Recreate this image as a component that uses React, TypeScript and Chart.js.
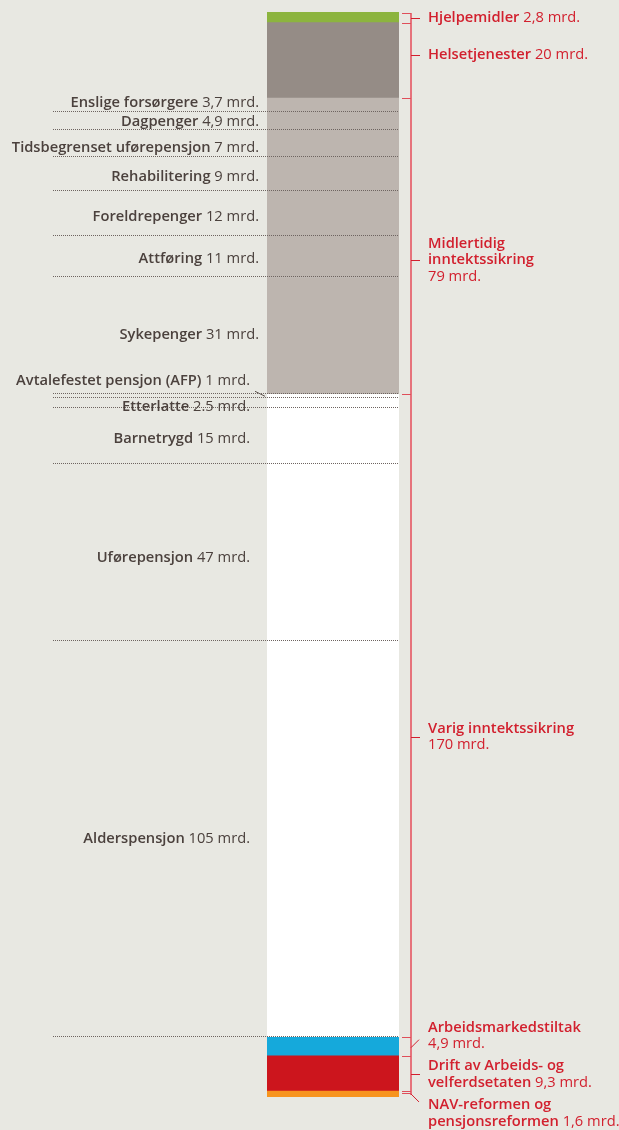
import { useEffect, useRef } from "react";
import { Chart, registerables } from "chart.js";
Chart.register(...registerables);

// ---- Data (values in mrd. kr) ----
// Varig inntektssikring, bottom to top
const varigItems = ["Alderspensjon", "Uførepensjon", "Barnetrygd", "Etterlatte", "Avtalefestet pensjon (AFP)"];
const varigValues = [105, 47, 15, 2.5, 1];
const varigValueLabels = ["105 mrd.", "47 mrd.", "15 mrd.", "2.5 mrd.", "1 mrd."];

// Midlertidig inntektssikring, bottom to top
const midlertidigItems = ["Sykepenger", "Attføring", "Foreldrepenger", "Rehabilitering", "Tidsbegrenset uførepensjon", "Dagpenger", "Enslige forsørgere"];
const midlertidigValues = [31, 11, 12, 9, 7, 4.9, 3.7];
const midlertidigValueLabels = ["31 mrd.", "11 mrd.", "12 mrd.", "9 mrd.", "7 mrd.", "4,9 mrd.", "3,7 mrd."];

// Single-segment groups
const navReformValues = [1.6];
const driftValues = [9.3];
const arbeidsValues = [4.9];
const helseValues = [20];
const hjelpemidlerValues = [2.8];

// Group labels, bottom to top
const groupNames = [
  ["NAV-reformen og", "pensjonsreformen"],
  ["Drift av Arbeids- og", "velferdsetaten"],
  ["Arbeidsmarkedstiltak"],
  ["Varig inntektssikring"],
  ["Midlertidig", "inntektssikring"],
  ["Helsetjenester"],
  ["Hjelpemidler"],
];
const groupValueLabels = ["1,6 mrd.", "9,3 mrd.", "4,9 mrd.", "170 mrd.", "79 mrd.", "20 mrd.", "2,8 mrd."];

// ---- Styles ----
const BG = "#e8e8e2";
const C_NAV = "#f7941e";
const C_DRIFT = "#cc151d";
const C_ARB = "#15a9db";
const C_VARIG = "#ffffff";
const C_MIDL = "#bdb5af";
const C_HELSE = "#958c86";
const C_HJELP = "#8cb43e";
const TXT = "#4b413d";
const RED_TXT = "#d2202e";
const BRACKET = "#e6737c";
const FONT = '"Open Sans", "Noto Sans", sans-serif';
const FS = 14.7;

const sum = (a: number[]) => a.reduce((s, v) => s + v, 0);

export default function App() {
  const ref = useRef<HTMLCanvasElement>(null);
  useEffect(() => {
    document.body.style.margin = "0";
    document.body.style.background = BG;
    const canvas = ref.current!;

    const ds = (label: string, v: number, color: string) => ({
      label,
      data: [v],
      backgroundColor: color,
      borderWidth: 0,
      barPercentage: 1,
      categoryPercentage: 1,
      stack: "s",
    });

    const datasets: any[] = [
      ds("NAV-reformen", navReformValues[0], C_NAV),
      ds("Drift", driftValues[0], C_DRIFT),
      ds("Arbeidsmarkedstiltak", arbeidsValues[0], C_ARB),
      ...varigItems.map((n, i) => ds(n, varigValues[i], C_VARIG)),
      ...midlertidigItems.map((n, i) => ds(n, midlertidigValues[i], C_MIDL)),
      ds("Helsetjenester", helseValues[0], C_HELSE),
      ds("Hjelpemidler", hjelpemidlerValues[0], C_HJELP),
    ];

    const groupSizes = [
      sum(navReformValues),
      sum(driftValues),
      sum(arbeidsValues),
      sum(varigValues),
      sum(midlertidigValues),
      sum(helseValues),
      sum(hjelpemidlerValues),
    ];
    const total = sum(groupSizes);

    // label offsets (px) from segment middle, and tick style
    const labelDy = [19.5, 1, -11, 21, 14, -5, 1];
    const tickType = ["down", "h", "up", "h", "h", "h", "h"];
    const inlineValue = [true, true, false, false, false, true, true];
    const varigDy = [-1, 5, 3, 4, -15];
    const midlDy = [-1, 2, 3, 3, 4, 1, -2];

    const drawRich = (ctx: CanvasRenderingContext2D, bold: string, reg: string, x: number, y: number, align: "left" | "right", color: string) => {
      const bf = `600 ${FS}px ${FONT}`;
      const rf = `400 ${FS}px ${FONT}`;
      ctx.font = bf;
      const bw = ctx.measureText(bold).width;
      ctx.font = rf;
      const rw = reg ? ctx.measureText(" " + reg).width : 0;
      const x0 = align === "right" ? x - bw - rw : x;
      ctx.fillStyle = color;
      ctx.textAlign = "left";
      ctx.textBaseline = "middle";
      ctx.font = bf;
      ctx.fillText(bold, x0, y);
      if (reg) {
        ctx.font = rf;
        ctx.fillText(" " + reg, x0 + bw, y);
      }
    };

    const overlay = {
      id: "overlay",
      afterDatasetsDraw(chart: any) {
        const ctx: CanvasRenderingContext2D = chart.ctx;
        const y = chart.scales.y;
        const area = chart.chartArea;
        ctx.save();
        // dotted lines at bottom of each sub-item in Varig and Midlertidig
        ctx.strokeStyle = "#6e6460";
        ctx.lineWidth = 1;
        ctx.setLineDash([1, 1]);
        let base = groupSizes[0] + groupSizes[1] + groupSizes[2];
        const subs = [...varigValues, ...midlertidigValues];
        for (let i = 0; i < subs.length; i++) {
          const py = Math.round(y.getPixelForValue(base)) - 0.5;
          ctx.beginPath();
          ctx.moveTo(53, py);
          ctx.lineTo(area.right, py);
          ctx.stroke();
          base += subs[i];
        }
        ctx.restore();
      },
      afterDraw(chart: any) {
        const ctx: CanvasRenderingContext2D = chart.ctx;
        const y = chart.scales.y;
        const area = chart.chartArea;
        ctx.save();

        // left labels
        let base = groupSizes[0] + groupSizes[1] + groupSizes[2];
        varigItems.forEach((n, i) => {
          const top = y.getPixelForValue(base + varigValues[i]);
          const bot = y.getPixelForValue(base);
          const mid = (top + bot) / 2;
          if (i === 4) {
            ctx.strokeStyle = "#5e5450";
            ctx.setLineDash([]);
            ctx.lineWidth = 1;
            ctx.beginPath();
            ctx.moveTo(255, mid - 5);
            ctx.lineTo(265, mid);
            ctx.stroke();
          }
          drawRich(ctx, n, varigValueLabels[i], 250, mid + varigDy[i], "right", TXT);
          base += varigValues[i];
        });
        midlertidigItems.forEach((n, i) => {
          const top = y.getPixelForValue(base + midlertidigValues[i]);
          const bot = y.getPixelForValue(base);
          const mid = (top + bot) / 2;
          drawRich(ctx, n, midlertidigValueLabels[i], 259, mid + midlDy[i], "right", TXT);
          base += midlertidigValues[i];
        });

        // right bracket: continuous vertical line
        const bx = area.right + 11;
        const yTop = y.getPixelForValue(total);
        const yBot = y.getPixelForValue(0);
        ctx.fillStyle = BRACKET;
        ctx.fillRect(bx, Math.round(yTop) + 1, 2, Math.round(yBot - yTop) - 3);

        // boundary ticks (left of line)
        ctx.strokeStyle = "#df4f5a";
        ctx.lineWidth = 1;
        ctx.setLineDash([]);
        let gb = 0;
        const bounds: number[] = [0];
        groupSizes.forEach((g) => {
          gb += g;
          bounds.push(gb);
        });
        bounds.forEach((b, k) => {
          let py = Math.round(y.getPixelForValue(b));
          if (k === 0) py -= 4;
          if (k === bounds.length - 1) py += 1;
          ctx.beginPath();
          ctx.moveTo(area.right + 3, py + 0.5);
          ctx.lineTo(bx + 1, py + 0.5);
          ctx.stroke();
        });

        gb = 0;
        groupSizes.forEach((g, i) => {
          const bot = y.getPixelForValue(gb);
          const top = y.getPixelForValue(gb + g);
          const mid = (top + bot) / 2;
          const ly = mid + labelDy[i];
          // middle tick
          ctx.strokeStyle = RED_TXT;
          ctx.lineWidth = 1;
          ctx.beginPath();
          if (tickType[i] === "h") {
            ctx.moveTo(bx + 1, Math.round(ly) + 0.5);
            ctx.lineTo(bx + 10, Math.round(ly) + 0.5);
          } else if (tickType[i] === "up") {
            ctx.moveTo(bx + 1, mid + 1);
            ctx.lineTo(bx + 9, mid - 7);
          } else {
            ctx.moveTo(bx + 1, mid);
            ctx.lineTo(bx + 9, mid + 8);
          }
          ctx.stroke();

          // label
          const lines = groupNames[i];
          const lh = 16.5;
          const nLines = lines.length + (inlineValue[i] ? 0 : 1);
          const y0 = ly - ((nLines - 1) * lh) / 2;
          const lx = bx + 18;
          lines.forEach((ln, k) => {
            const last = k === lines.length - 1;
            drawRich(ctx, ln, last && inlineValue[i] ? groupValueLabels[i] : "", lx, y0 + k * lh, "left", RED_TXT);
          });
          if (!inlineValue[i]) {
            ctx.font = `400 ${FS}px ${FONT}`;
            ctx.fillStyle = RED_TXT;
            ctx.textAlign = "left";
            ctx.textBaseline = "middle";
            ctx.fillText(groupValueLabels[i], lx, y0 + lines.length * lh);
          }
          gb += g;
        });
        ctx.restore();
      },
    };

    const chart = new Chart(canvas, {
      type: "bar",
      data: { labels: [""], datasets },
      options: {
        animation: false,
        responsive: false,
        maintainAspectRatio: false,
        layout: { padding: { left: 267, right: 220, top: 12, bottom: 33 } },
        plugins: { legend: { display: false }, tooltip: { enabled: false } },
        scales: {
          x: { stacked: true, display: false },
          y: { stacked: true, display: false, min: 0, max: total },
        },
      },
      plugins: [overlay],
    });
    return () => chart.destroy();
  }, []);
  return <canvas ref={ref} width={619} height={1130} style={{ display: "block", width: 619, height: 1130 }} />;
}
